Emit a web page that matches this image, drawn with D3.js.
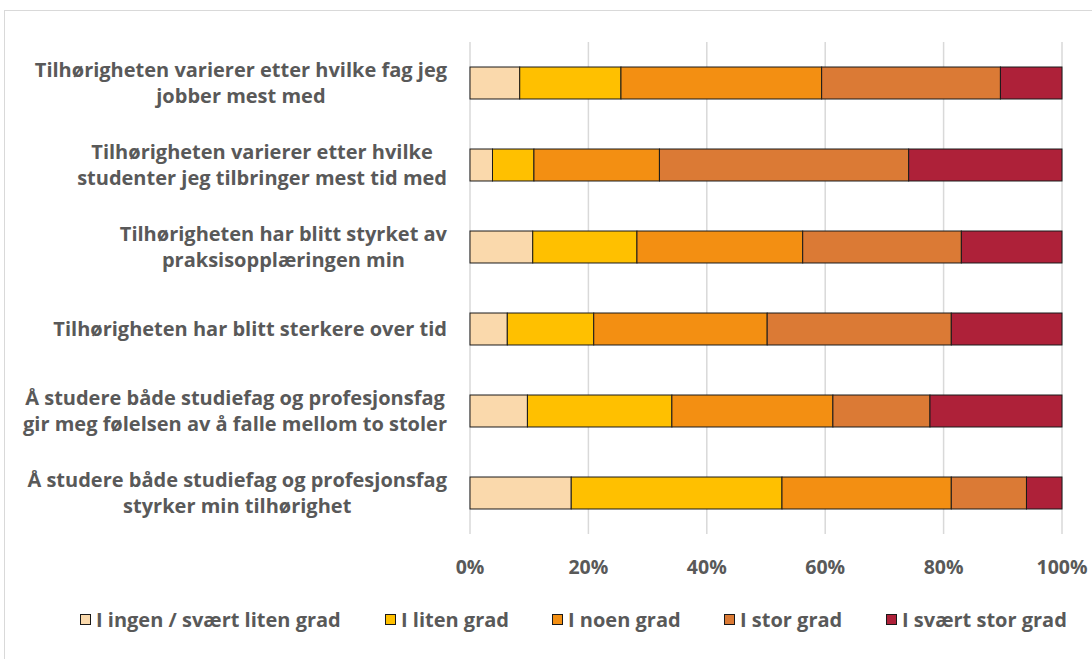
<!DOCTYPE html>
<html>
<head>
<meta charset="utf-8">
<script src="https://cdn.jsdelivr.net/npm/d3@7"></script>
<style>
	body { margin: 0; background: #fff; }
	text { font-family: "Open Sans", "Liberation Sans", sans-serif; font-weight: bold; fill: #595959; }
</style>
</head>
<body>
<div id="chart"></div>
<script>
// statements (top to bottom), each split in display lines
var categories = [
	["Tilhørigheten varierer etter hvilke fag jeg", "jobber mest med"],
	["Tilhørigheten varierer etter hvilke", "studenter jeg tilbringer mest tid med"],
	["Tilhørigheten har blitt styrket av", "praksisopplæringen min"],
	["Tilhørigheten har blitt sterkere over tid"],
	["Å studere både studiefag og profesjonsfag", "gir meg følelsen av å falle mellom to stoler"],
	["Å studere både studiefag og profesjonsfag", "styrker min tilhørighet"]
];

var seriesNames = ["I ingen / svært liten grad", "I liten grad", "I noen grad", "I stor grad", "I svært stor grad"];
var seriesColors = ["#FAD9AC", "#FFC000", "#F38F12", "#DB7A35", "#AE2139"];

// percent per series, one value per category
var ingen   = [8.4, 3.8, 10.6, 6.3, 9.7, 17.1];
var liten   = [17.1, 7.0, 17.6, 14.6, 24.4, 35.6];
var noen    = [33.9, 21.2, 28.0, 29.3, 27.2, 28.6];
var stor    = [30.2, 42.1, 26.8, 31.1, 16.4, 12.7];
var sværtStor = [10.4, 25.9, 17.0, 18.7, 22.3, 6.0];

var xTicks = [0, 20, 40, 60, 80, 100];

var W = 1092, H = 659;
var margin = { top: 42, right: 30, bottom: 125, left: 470 },
	width = W - margin.left - margin.right,
	height = H - margin.top - margin.bottom;

var svg = d3.select("#chart").append("svg")
	.attr("width", W)
	.attr("height", H);

// chart frame
svg.append("rect")
	.attr("x", 4.5).attr("y", 10.5)
	.attr("width", W).attr("height", H)
	.attr("fill", "none")
	.attr("stroke", "#D9D9D9")
	.attr("stroke-width", 1);

var g = svg.append("g")
	.attr("transform", "translate(" + margin.left + "," + margin.top + ")");

var x = d3.scaleLinear().domain([0, 100]).range([0, width]);
var y = d3.scaleBand().domain(d3.range(categories.length)).range([0, height]).paddingInner(0.61).paddingOuter(0.305);

// grid
g.selectAll(".grid")
	.data(xTicks)
	.enter().append("line")
	.attr("class", "grid")
	.attr("x1", function (d) { return x(d); })
	.attr("x2", function (d) { return x(d); })
	.attr("y1", 0)
	.attr("y2", height)
	.attr("stroke", "#D9D9D9")
	.attr("stroke-width", 1.5);

// stack the data
var rows = categories.map(function (c, i) {
	return { i: i, s0: ingen[i], s1: liten[i], s2: noen[i], s3: stor[i], s4: sværtStor[i] };
});
var keys = ["s0", "s1", "s2", "s3", "s4"];
var stacked = d3.stack().keys(keys)(rows);

g.selectAll(".series")
	.data(stacked)
	.enter().append("g")
	.attr("class", "series")
	.attr("fill", function (d, k) { return seriesColors[k]; })
	.selectAll("rect")
	.data(function (d) { return d; })
	.enter().append("rect")
	.attr("x", function (d) { return x(d[0]); })
	.attr("width", function (d) { return x(d[1]) - x(d[0]); })
	.attr("y", function (d) { return y(d.data.i); })
	.attr("height", y.bandwidth())
	.attr("stroke", "#1a1a1a")
	.attr("stroke-width", 1);

// category labels: lines centred in a block that is right-aligned
var lineH = 26;
g.selectAll(".cat")
	.data(categories)
	.enter().append("text")
	.attr("class", "cat")
	.attr("text-anchor", "middle")
	.attr("font-size", 20)
	.each(function (lines, i) {
		var cy = y(i) + y.bandwidth() / 2;
		var t = d3.select(this);
		lines.forEach(function (l, j) {
			t.append("tspan")
				.attr("x", 0)
				.attr("y", cy + (j - (lines.length - 1) / 2) * lineH)
				.attr("dy", "0.35em")
				.text(l);
		});
		var wMax = d3.max(t.selectAll("tspan").nodes(), function (n) { return n.getComputedTextLength(); });
		t.selectAll("tspan").attr("x", -23 - wMax / 2);
	});

// x axis labels
g.selectAll(".tick")
	.data(xTicks)
	.enter().append("text")
	.attr("class", "tick")
	.attr("x", function (d) { return x(d); })
	.attr("y", height + 33)
	.attr("dy", "0.35em")
	.attr("text-anchor", "middle")
	.attr("font-size", 19.5)
	.text(function (d) { return d + "%"; });

// legend
var legendX = [80, 385, 552, 724, 886];
var leg = svg.selectAll(".legend")
	.data(seriesNames)
	.enter().append("g")
	.attr("class", "legend")
	.attr("transform", function (d, k) { return "translate(" + legendX[k] + ",620)"; });

leg.append("rect")
	.attr("x", 0.5).attr("y", -5.5)
	.attr("width", 10).attr("height", 10)
	.attr("fill", function (d, k) { return seriesColors[k]; })
	.attr("stroke", "#1a1a1a")
	.attr("stroke-width", 1);

leg.append("text")
	.attr("x", 16)
	.attr("dy", "0.35em")
	.attr("font-size", 20)
	.text(function (d) { return d; });
</script>
</body>
</html>
